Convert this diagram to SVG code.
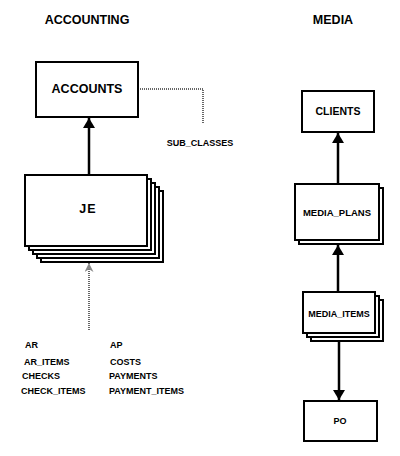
<svg xmlns="http://www.w3.org/2000/svg" width="400" height="456" viewBox="0 0 400 456">
<style>
.box{fill:#fff;stroke:#000;stroke-width:2}
.t{font-family:"Liberation Sans",Arial,sans-serif;font-weight:bold;fill:#000;text-anchor:middle}
.l{font-family:"Liberation Sans",Arial,sans-serif;font-weight:bold;fill:#000;font-size:9px}
.solid{stroke:#000;stroke-width:2.5;fill:none}
.dot{stroke:#666;stroke-width:2;fill:none;stroke-dasharray:1 1}
</style>
<defs>
<marker id="ah" viewBox="0 0 10 12" refX="10" refY="6" markerWidth="10" markerHeight="12" markerUnits="userSpaceOnUse" orient="auto">
<path d="M0,0 L10,6 L0,12 Z" fill="#000"/>
</marker>
<marker id="ahg" viewBox="0 0 10 10" refX="10" refY="5" markerWidth="10" markerHeight="9" markerUnits="userSpaceOnUse" orient="auto">
<path d="M0,0 L10,5 L0,10 L3,5 Z" fill="#888"/>
</marker>
</defs>
<rect width="400" height="456" fill="#fff"/>
<text class="t" x="87" y="24" font-size="12.5">ACCOUNTING</text>
<text class="t" x="333" y="24" font-size="12.5">MEDIA</text>
<g id="connectors">
<line class="solid" x1="89" y1="175" x2="89" y2="118" marker-end="url(#ah)"/>
<polyline class="dot" points="138,89 203,89 203,124"/>
<line class="dot" x1="89" y1="330" x2="89" y2="263" marker-end="url(#ahg)"/>
<line class="solid" x1="338" y1="184" x2="338" y2="133" marker-end="url(#ah)"/>
<line class="solid" x1="338" y1="292" x2="338" y2="245" marker-end="url(#ah)"/>
<line class="solid" x1="339" y1="342" x2="339" y2="400" marker-end="url(#ah)"/>
</g>
<g id="accounts">
<rect class="box" x="36" y="62" width="102" height="55"/>
<text class="t" x="87" y="93" font-size="12.5">ACCOUNTS</text>
</g>
<g id="sub_classes">
<text class="t" x="200" y="146" font-size="9">SUB_CLASSES</text>
</g>
<g id="je">
<rect class="box" x="41" y="191" width="122" height="71"/>
<rect class="box" x="37" y="187" width="122" height="71"/>
<rect class="box" x="33" y="183" width="122" height="71"/>
<rect class="box" x="29" y="179" width="122" height="71"/>
<rect class="box" x="25" y="175" width="122" height="71"/>
<text class="t" x="88" y="213" font-size="12.5" letter-spacing="1">JE</text>
</g>
<g id="je_sources">
<text class="l" x="25" y="348">AR</text>
<text class="l" x="24" y="365">AR_ITEMS</text>
<text class="l" x="22" y="379">CHECKS</text>
<text class="l" x="21" y="394">CHECK_ITEMS</text>
<text class="l" x="110" y="348">AP</text>
<text class="l" x="110" y="365">COSTS</text>
<text class="l" x="109" y="379">PAYMENTS</text>
<text class="l" x="109" y="394">PAYMENT_ITEMS</text>
</g>
<g id="clients">
<rect class="box" x="302" y="91" width="72" height="41"/>
<text class="t" x="338" y="115" font-size="10.5">CLIENTS</text>
</g>
<g id="media_plans">
<rect class="box" x="299" y="188" width="84" height="56"/>
<rect class="box" x="295" y="184" width="84" height="56"/>
<text class="t" x="337" y="216" font-size="9.5">MEDIA_PLANS</text>
</g>
<g id="media_items">
<rect class="box" x="311" y="300" width="72" height="41"/>
<rect class="box" x="307" y="296" width="72" height="41"/>
<rect class="box" x="303" y="292" width="72" height="41"/>
<text class="t" x="339" y="317" font-size="9">MEDIA_ITEMS</text>
</g>
<g id="po">
<rect class="box" x="304" y="401" width="73" height="40"/>
<text class="t" x="340" y="424" font-size="9">PO</text>
</g>
</svg>
